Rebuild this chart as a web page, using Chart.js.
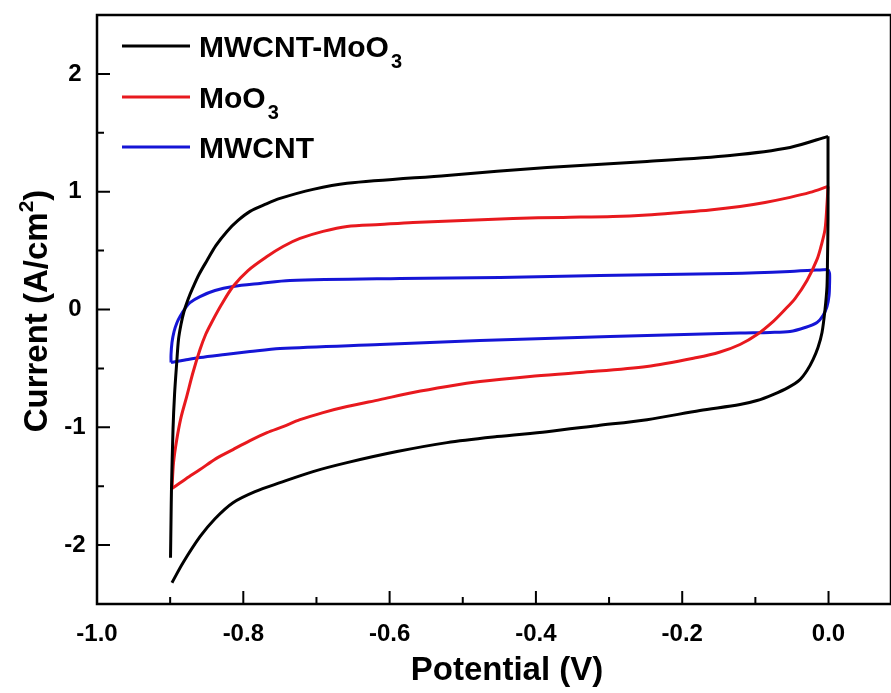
<!DOCTYPE html>
<html>
<head>
<meta charset="utf-8">
<script src="https://cdn.jsdelivr.net/npm/chart.js@4.4.1/dist/chart.umd.min.js"></script>
<style>
  html, body { margin: 0; padding: 0; background: #fff; overflow: hidden; }
  canvas { display: block; }
</style>
</head>
<body>
<canvas id="cvChart" width="891" height="693"></canvas>
<script>
// CV loops: potential (V) and current (A/cm2)
// each loop split into the forward (upper) and reverse (lower) sweep
const compUpV = [-0.8995, -0.8988, -0.8982, -0.8961, -0.8940, -0.8910, -0.8886, -0.8852, -0.8811, -0.8756, -0.8688, -0.8606, -0.8496, -0.8373, -0.8223, -0.8072, -0.7908, -0.7703, -0.7498, -0.7047, -0.6582, -0.5215, -0.3848, -0.2481, -0.1346, -0.0526, -0.0007];
const compUpI = [-2.107, -1.784, -1.529, -1.020, -0.722, -0.450, -0.255, -0.127, -0.017, 0.085, 0.187, 0.297, 0.416, 0.544, 0.663, 0.756, 0.833, 0.892, 0.943, 1.020, 1.071, 1.138, 1.206, 1.257, 1.308, 1.376, 1.470];
const compDownV = [-0.0007, -0.0007, -0.0007, -0.0014, -0.0021, -0.0048, -0.0089, -0.0144, -0.0212, -0.0294, -0.0390, -0.0554, -0.0759, -0.0977, -0.1210, -0.1757, -0.2481, -0.3165, -0.3848, -0.4532, -0.5215, -0.5899, -0.6582, -0.7047, -0.7498, -0.7840, -0.8141, -0.8387, -0.8592, -0.8824, -0.8975];
const compDownI = [1.470, 1.105, 0.765, 0.425, 0.195, 0.000, -0.195, -0.323, -0.425, -0.518, -0.595, -0.663, -0.722, -0.773, -0.807, -0.858, -0.935, -0.986, -1.037, -1.079, -1.130, -1.206, -1.300, -1.376, -1.470, -1.546, -1.640, -1.776, -1.929, -2.150, -2.319];

const mooUpV = [-0.8975, -0.8954, -0.8910, -0.8852, -0.8774, -0.8688, -0.8592, -0.8515, -0.8433, -0.8298, -0.8141, -0.7936, -0.7676, -0.7457, -0.7225, -0.6910, -0.6582, -0.6131, -0.5680, -0.4997, -0.4313, -0.3629, -0.2946, -0.2481, -0.2030, -0.1620, -0.1210, -0.0868, -0.0526, -0.0253, -0.0007];
const mooUpI = [-1.520, -1.300, -1.105, -0.918, -0.739, -0.535, -0.340, -0.212, -0.110, 0.042, 0.195, 0.331, 0.450, 0.535, 0.603, 0.663, 0.705, 0.722, 0.739, 0.756, 0.773, 0.782, 0.790, 0.803, 0.824, 0.845, 0.875, 0.909, 0.952, 0.994, 1.045];
const mooDownV = [-0.0007, -0.0021, -0.0048, -0.0103, -0.0157, -0.0294, -0.0458, -0.0608, -0.0759, -0.0977, -0.1210, -0.1483, -0.1798, -0.2481, -0.3397, -0.4081, -0.4764, -0.5215, -0.5680, -0.6131, -0.6582, -0.6910, -0.7225, -0.7457, -0.7676, -0.7908, -0.8141, -0.8373, -0.8592, -0.8783, -0.8975];
const mooDownI = [1.045, 0.892, 0.680, 0.535, 0.425, 0.246, 0.093, -0.008, -0.102, -0.212, -0.297, -0.361, -0.408, -0.484, -0.535, -0.569, -0.612, -0.654, -0.705, -0.765, -0.824, -0.875, -0.935, -0.994, -1.045, -1.113, -1.189, -1.266, -1.359, -1.436, -1.520];

const cntUpV = [-0.8988, -0.8988, -0.8975, -0.8947, -0.8906, -0.8865, -0.8797, -0.8729, -0.8592, -0.8387, -0.8141, -0.7772, -0.7362, -0.5858, -0.4491, -0.3124, -0.1346, -0.0526, -0.0007];
const cntUpI = [-0.450, -0.382, -0.280, -0.187, -0.110, -0.059, 0.008, 0.059, 0.110, 0.161, 0.195, 0.221, 0.246, 0.263, 0.272, 0.289, 0.306, 0.323, 0.340];
const cntDownV = [-0.0007, 0.0014, 0.0014, 0.0007, -0.0021, -0.0075, -0.0157, -0.0321, -0.0526, -0.0800, -0.1210, -0.2987, -0.4764, -0.6131, -0.7498, -0.7908, -0.8250, -0.8592, -0.8797, -0.8988];
const cntDownI = [0.340, 0.306, 0.212, 0.119, 0.025, -0.051, -0.110, -0.153, -0.187, -0.195, -0.200, -0.229, -0.263, -0.297, -0.331, -0.357, -0.382, -0.408, -0.429, -0.450];

const seriesNames = ['MWCNT-MoO', 'MoO', 'MWCNT'];
const seriesSubs = ['3', '3', ''];
const seriesColors = ['#000000', '#e8191e', '#1515d6'];

const xMajor = [-1.0, -0.8, -0.6, -0.4, -0.2, 0.0];
const xMinor = [-0.9, -0.7, -0.5, -0.3, -0.1];
const yMajor = [-2, -1, 0, 1, 2];
const yMinor = [-1.5, -0.5, 0.5, 1.5];

const pts = (vs, is) => vs.map((v, k) => ({ x: v, y: is[k] }));

const branch = (vs, is, color) => ({
    data: pts(vs, is),
    borderColor: color,
    borderWidth: 3,
    pointRadius: 0,
    showLine: true,
    tension: 0.3,
    fill: false
});

const datasets = [
    branch(compUpV, compUpI, seriesColors[0]),
    branch(compDownV, compDownI, seriesColors[0]),
    branch(mooUpV, mooUpI, seriesColors[1]),
    branch(mooDownV, mooDownI, seriesColors[1]),
    branch(cntUpV, cntUpI, seriesColors[2]),
    branch(cntDownV, cntDownI, seriesColors[2])
];

const FONT = '"Liberation Sans", Arial, sans-serif';

// frame, inward ticks, labels, titles and legend
const decorPlugin = {
    id: 'decor',
    afterDraw(chart) {
        const ctx = chart.ctx;
        const a = chart.chartArea;
        const xs = chart.scales.x, ys = chart.scales.y;
        ctx.save();
        ctx.strokeStyle = '#000';
        ctx.lineWidth = 2.5;
        ctx.strokeRect(a.left, a.top, a.right - a.left, a.bottom - a.top);

        ctx.lineWidth = 2;
        ctx.beginPath();
        xMajor.forEach(v => { const p = xs.getPixelForValue(v); ctx.moveTo(p, a.bottom); ctx.lineTo(p, a.bottom - 13); });
        xMinor.forEach(v => { const p = xs.getPixelForValue(v); ctx.moveTo(p, a.bottom); ctx.lineTo(p, a.bottom - 7); });
        yMajor.forEach(v => { const p = ys.getPixelForValue(v); ctx.moveTo(a.left, p); ctx.lineTo(a.left + 13, p); });
        yMinor.forEach(v => { const p = ys.getPixelForValue(v); ctx.moveTo(a.left, p); ctx.lineTo(a.left + 7, p); });
        ctx.stroke();

        ctx.fillStyle = '#000';
        ctx.font = 'bold 24px ' + FONT;
        ctx.textAlign = 'center';
        ctx.textBaseline = 'middle';
        xMajor.forEach(v => ctx.fillText(v.toFixed(1), xs.getPixelForValue(v), a.bottom + 30));
        yMajor.forEach(v => ctx.fillText(String(v), 75, ys.getPixelForValue(v)));

        ctx.font = 'bold 33px ' + FONT;
        ctx.fillText('Potential (V)', 507, 671);

        // y title with superscript
        ctx.save();
        ctx.translate(36, 311);
        ctx.rotate(-Math.PI / 2);
        ctx.font = 'bold 33px ' + FONT;
        const t1 = 'Current (A/cm', t2 = '2', t3 = ')';
        const w1 = ctx.measureText(t1).width, w3 = ctx.measureText(t3).width;
        ctx.font = 'bold 21px ' + FONT;
        const w2 = ctx.measureText(t2).width;
        let x0 = -(w1 + w2 + w3) / 2;
        ctx.textAlign = 'left';
        ctx.textBaseline = 'alphabetic';
        ctx.font = 'bold 33px ' + FONT;
        ctx.fillText(t1, x0, 11);
        ctx.font = 'bold 21px ' + FONT;
        ctx.fillText(t2, x0 + w1, -3);
        ctx.font = 'bold 33px ' + FONT;
        ctx.fillText(t3, x0 + w1 + w2, 11);
        ctx.restore();

        // legend
        const rows = [46, 97, 147];
        seriesNames.forEach((name, k) => {
            const y = rows[k];
            ctx.strokeStyle = seriesColors[k];
            ctx.lineWidth = 3;
            ctx.beginPath();
            ctx.moveTo(122, y);
            ctx.lineTo(190, y);
            ctx.stroke();
            ctx.textAlign = 'left';
            ctx.textBaseline = 'alphabetic';
            ctx.font = 'bold 30px ' + FONT;
            ctx.fillText(name, 199, y + 11);
            if (seriesSubs[k]) {
                const w = ctx.measureText(name).width;
                ctx.font = 'bold 20px ' + FONT;
                ctx.fillText(seriesSubs[k], 199 + w + 2, y + 22);
            }
        });
        ctx.restore();
    }
};

window.onload = function() {
    window.cvChart = new Chart(document.getElementById('cvChart'), {
        type: 'scatter',
        data: { datasets: datasets },
        options: {
            responsive: false,
            animation: false,
            layout: { padding: { left: 0, right: 0, top: 15, bottom: 0 } },
            plugins: { legend: { display: false }, tooltip: { enabled: false } },
            scales: {
                x: {
                    type: 'linear',
                    min: -1.0,
                    max: 0.0854,
                    grid: { display: false },
                    border: { display: false },
                    ticks: { display: false },
                    afterFit(s) { s.height = 89; }
                },
                y: {
                    type: 'linear',
                    min: -2.5,
                    max: 2.5,
                    grid: { display: false },
                    border: { display: false },
                    ticks: { display: false },
                    afterFit(s) { s.width = 97; }
                }
            }
        },
        plugins: [decorPlugin]
    });
};
</script>
</body>
</html>
